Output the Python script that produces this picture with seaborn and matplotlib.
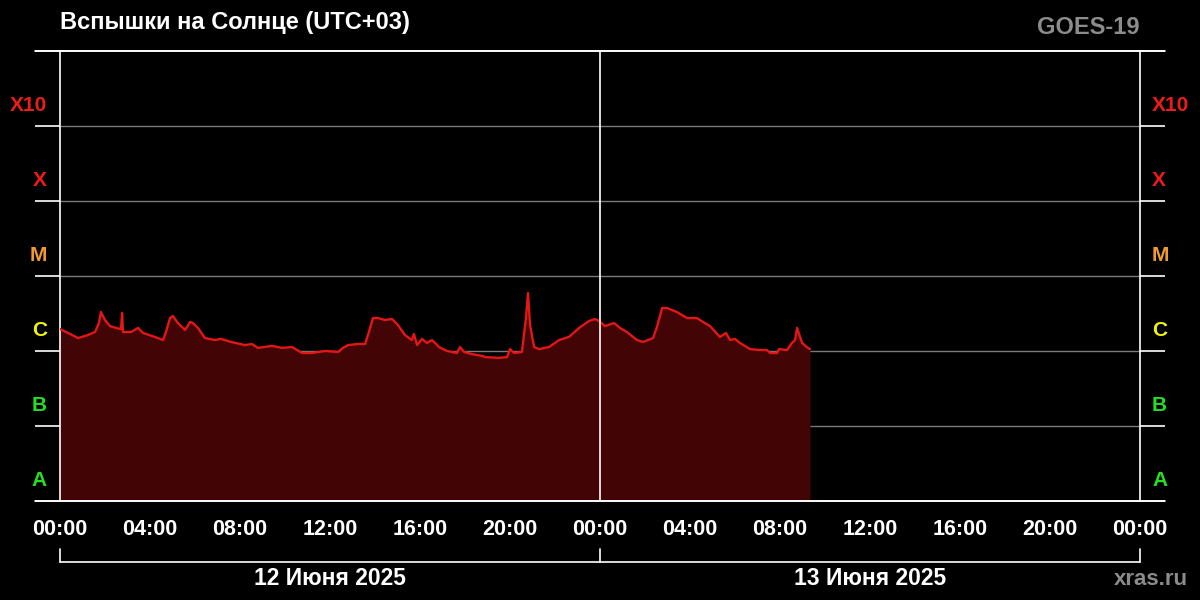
import matplotlib
matplotlib.use("Agg")
import matplotlib.pyplot as plt
import matplotlib.transforms as mtransforms
from matplotlib.ticker import FixedLocator, NullFormatter
import numpy as np
import pandas as pd
import seaborn as sns

# ---- data (hours since 12 June 00:00, UTC+03; X-ray flux W/m^2) ----
hours = [0.00, 0.36, 0.80, 1.24, 1.56, 1.73, 1.82, 2.00, 2.22, 2.49, 2.71, 2.76, 2.80,
         3.16, 3.47, 3.69, 4.22, 4.58, 4.71, 4.89, 5.02, 5.24, 5.56, 5.78, 5.91, 6.13,
         6.44, 6.89, 7.16, 7.60, 8.22, 8.53, 8.80, 9.42, 9.87, 10.31, 10.76, 11.20,
         11.78, 12.36, 12.58, 12.80, 13.24, 13.56, 13.73, 13.91, 14.13, 14.44, 14.76,
         15.02, 15.33, 15.64, 15.73, 15.87, 16.09, 16.31, 16.53, 16.67, 16.84, 17.20,
         17.64, 17.78, 17.96, 18.31, 18.76, 18.89, 19.51, 19.87, 20.00, 20.18, 20.53,
         20.71, 20.80, 20.89, 21.07, 21.29, 21.73, 22.00, 22.18, 22.62, 23.07, 23.51,
         23.78, 23.96, 24.22, 24.62, 24.89, 25.20, 25.64, 25.91, 26.13, 26.36, 26.53,
         26.76, 26.98, 27.42, 27.87, 28.31, 28.58, 28.89, 29.33, 29.60, 29.78, 30.00,
         30.22, 30.67, 31.11, 31.42, 31.56, 31.87, 31.96, 32.31, 32.53, 32.67, 32.76,
         32.98, 33.24, 33.33]
flux = [1.96e-6, 1.74e-6, 1.49e-6, 1.63e-6, 1.80e-6, 2.36e-6, 3.31e-6, 2.59e-6, 2.15e-6,
        2.03e-6, 1.96e-6, 3.21e-6, 1.79e-6, 1.79e-6, 2.03e-6, 1.74e-6, 1.54e-6, 1.40e-6,
        1.79e-6, 2.75e-6, 2.93e-6, 2.36e-6, 1.91e-6, 2.44e-6, 2.36e-6, 2.03e-6, 1.49e-6,
        1.40e-6, 1.45e-6, 1.32e-6, 1.20e-6, 1.24e-6, 1.10e-6, 1.17e-6, 1.10e-6, 1.13e-6,
        9.4e-7, 9.4e-7, 1.00e-6, 9.7e-7, 1.10e-6, 1.20e-6, 1.24e-6, 1.24e-6, 1.79e-6,
        2.75e-6, 2.75e-6, 2.59e-6, 2.67e-6, 2.22e-6, 1.63e-6, 1.40e-6, 1.69e-6, 1.20e-6,
        1.45e-6, 1.28e-6, 1.40e-6, 1.28e-6, 1.13e-6, 1.00e-6, 9.4e-7, 1.13e-6, 9.7e-7,
        9.1e-7, 8.6e-7, 8.3e-7, 8.1e-7, 8.3e-7, 1.06e-6, 9.4e-7, 9.7e-7, 2.75e-6, 5.93e-6,
        2.22e-6, 1.13e-6, 1.06e-6, 1.13e-6, 1.28e-6, 1.40e-6, 1.54e-6, 2.03e-6, 2.51e-6,
        2.67e-6, 2.51e-6, 2.15e-6, 2.36e-6, 2.03e-6, 1.79e-6, 1.40e-6, 1.32e-6, 1.40e-6,
        1.49e-6, 2.09e-6, 3.74e-6, 3.74e-6, 3.31e-6, 2.75e-6, 2.75e-6, 2.44e-6, 2.15e-6,
        1.54e-6, 1.74e-6, 1.40e-6, 1.45e-6, 1.28e-6, 1.06e-6, 1.03e-6, 1.03e-6, 9.4e-7,
        9.4e-7, 1.06e-6, 1.03e-6, 1.28e-6, 1.40e-6, 2.03e-6, 1.28e-6, 1.10e-6, 1.06e-6]

class_labels = ["A", "B", "C", "M", "X", "X10"]
class_colors = ["#22e022", "#22e022", "#f2f20e", "#f29a2e", "#ec1c1c", "#ec1c1c"]
class_bounds = [1e-8, 1e-7, 1e-6, 1e-5, 1e-4, 1e-3, 1e-2]
tick_labels = ["00:00", "04:00", "08:00", "12:00", "16:00", "20:00",
               "00:00", "04:00", "08:00", "12:00", "16:00", "20:00", "00:00"]
day_labels = ["12 Июня 2025", "13 Июня 2025"]
title = "Вспышки на Солнце (UTC+03)"
satellite = "GOES-19"
source = "xras.ru"

sns.set_style("dark", {"axes.facecolor": "black", "figure.facecolor": "black"})
plt.rcParams["font.family"] = ["Liberation Sans", "DejaVu Sans"]
plt.rcParams["font.weight"] = "bold"

W, H = 1200, 600
fig = plt.figure(figsize=(12, 6), dpi=100, facecolor="black")
ax = fig.add_axes([60 / W, 1 - 501 / H, 1080 / W, 450 / H])
ax.set_facecolor("black")

df = pd.DataFrame({"h": hours, "flux": flux})
ax.fill_between(df["h"], 1e-8, df["flux"], color="#420404", linewidth=0, zorder=2)
sns.lineplot(data=df, x="h", y="flux", ax=ax, color="#e41616", linewidth=1.7,
             zorder=3, sort=False, estimator=None)

ax.set_yscale("log")
ax.set_ylim(class_bounds[0], class_bounds[-1])
ax.set_xlim(0, 48)
ax.set_xlabel("")
ax.set_ylabel("")
ax.grid(False)

# horizontal gray grid lines (behind fill)
for b in class_bounds[1:-1]:
    ax.axhline(b, color="#7a7a7a", linewidth=1, zorder=1)
# midnight white line
ax.axvline(24, color="white", linewidth=1.2, zorder=4)

for s in ["left", "right", "top", "bottom"]:
    ax.spines[s].set_color("white")
    ax.spines[s].set_linewidth(1.2)
    ax.spines[s].set_visible(True)

# y ticks: long white marks on both sides, no labels
ax.yaxis.set_major_locator(FixedLocator(class_bounds))
ax.yaxis.set_minor_locator(FixedLocator([]))
ax.yaxis.set_major_formatter(NullFormatter())
ax.tick_params(axis="y", which="major", length=18, width=1.2, color="white",
               direction="out", left=True, right=True, labelleft=False)

# x ticks
ax.xaxis.set_major_locator(FixedLocator(list(range(0, 49, 4))))
ax.xaxis.set_minor_locator(FixedLocator(list(range(0, 49, 1))))
ax.set_xticklabels(tick_labels)
ax.tick_params(axis="x", which="major", length=9, width=1.2, color="white",
               direction="out", labelcolor="white", labelsize=15.5, pad=4)
ax.tick_params(axis="x", which="minor", length=4.5, width=1.2, color="white",
               direction="out")
for t in ax.get_xticklabels():
    t.set_fontweight("bold")

# extend top and bottom borders outside plot
ext = 25 / 1080
for yv in [0, 1]:
    ax.plot([-ext, 1 + ext], [yv, yv], transform=ax.transAxes, color="white",
            linewidth=1.2, clip_on=False, zorder=5)

# class labels
ytrans = mtransforms.blended_transform_factory(fig.transFigure, ax.transData)
for lab, col, lo in zip(class_labels, class_colors, class_bounds[:-1]):
    yb = lo * 10 ** 0.2
    fig.text(47 / W, yb, lab, transform=ytrans, color=col, fontsize=15,
             fontweight="bold", ha="right", va="baseline")
    fig.text(1152 / W, yb, lab, transform=ytrans, color=col, fontsize=15,
             fontweight="bold", ha="left", va="baseline")

# day bracket
btrans = mtransforms.blended_transform_factory(ax.transData, fig.transFigure)
yb_low = 1 - 562 / H
yb_high = 1 - 549 / H
ax.plot([0, 48], [yb_low, yb_low], transform=btrans, color="white", lw=1.2, clip_on=False)
for xv in [0, 24, 48]:
    ax.plot([xv, xv], [yb_low, yb_high], transform=btrans, color="white", lw=1.2,
            clip_on=False)
for i, d in enumerate(day_labels):
    fig.text(12 + 24 * i, 1 - 585 / H, d, transform=btrans, color="white",
             fontsize=16.5, fontweight="bold", ha="center", va="baseline")

# header / footer texts
fig.text(60 / W, 1 - 29 / H, title, color="white", fontsize=17, fontweight="bold",
         ha="left", va="baseline")
fig.text(1140 / W, 1 - 34 / H, satellite, color="#8c8c8c", fontsize=17,
         fontweight="bold", ha="right", va="baseline")
fig.text(1188 / W, 1 - 585 / H, source, color="#8c8c8c", fontsize=16,
         fontweight="bold", ha="right", va="baseline")

fig.savefig("out.png", dpi=100, facecolor="black")
